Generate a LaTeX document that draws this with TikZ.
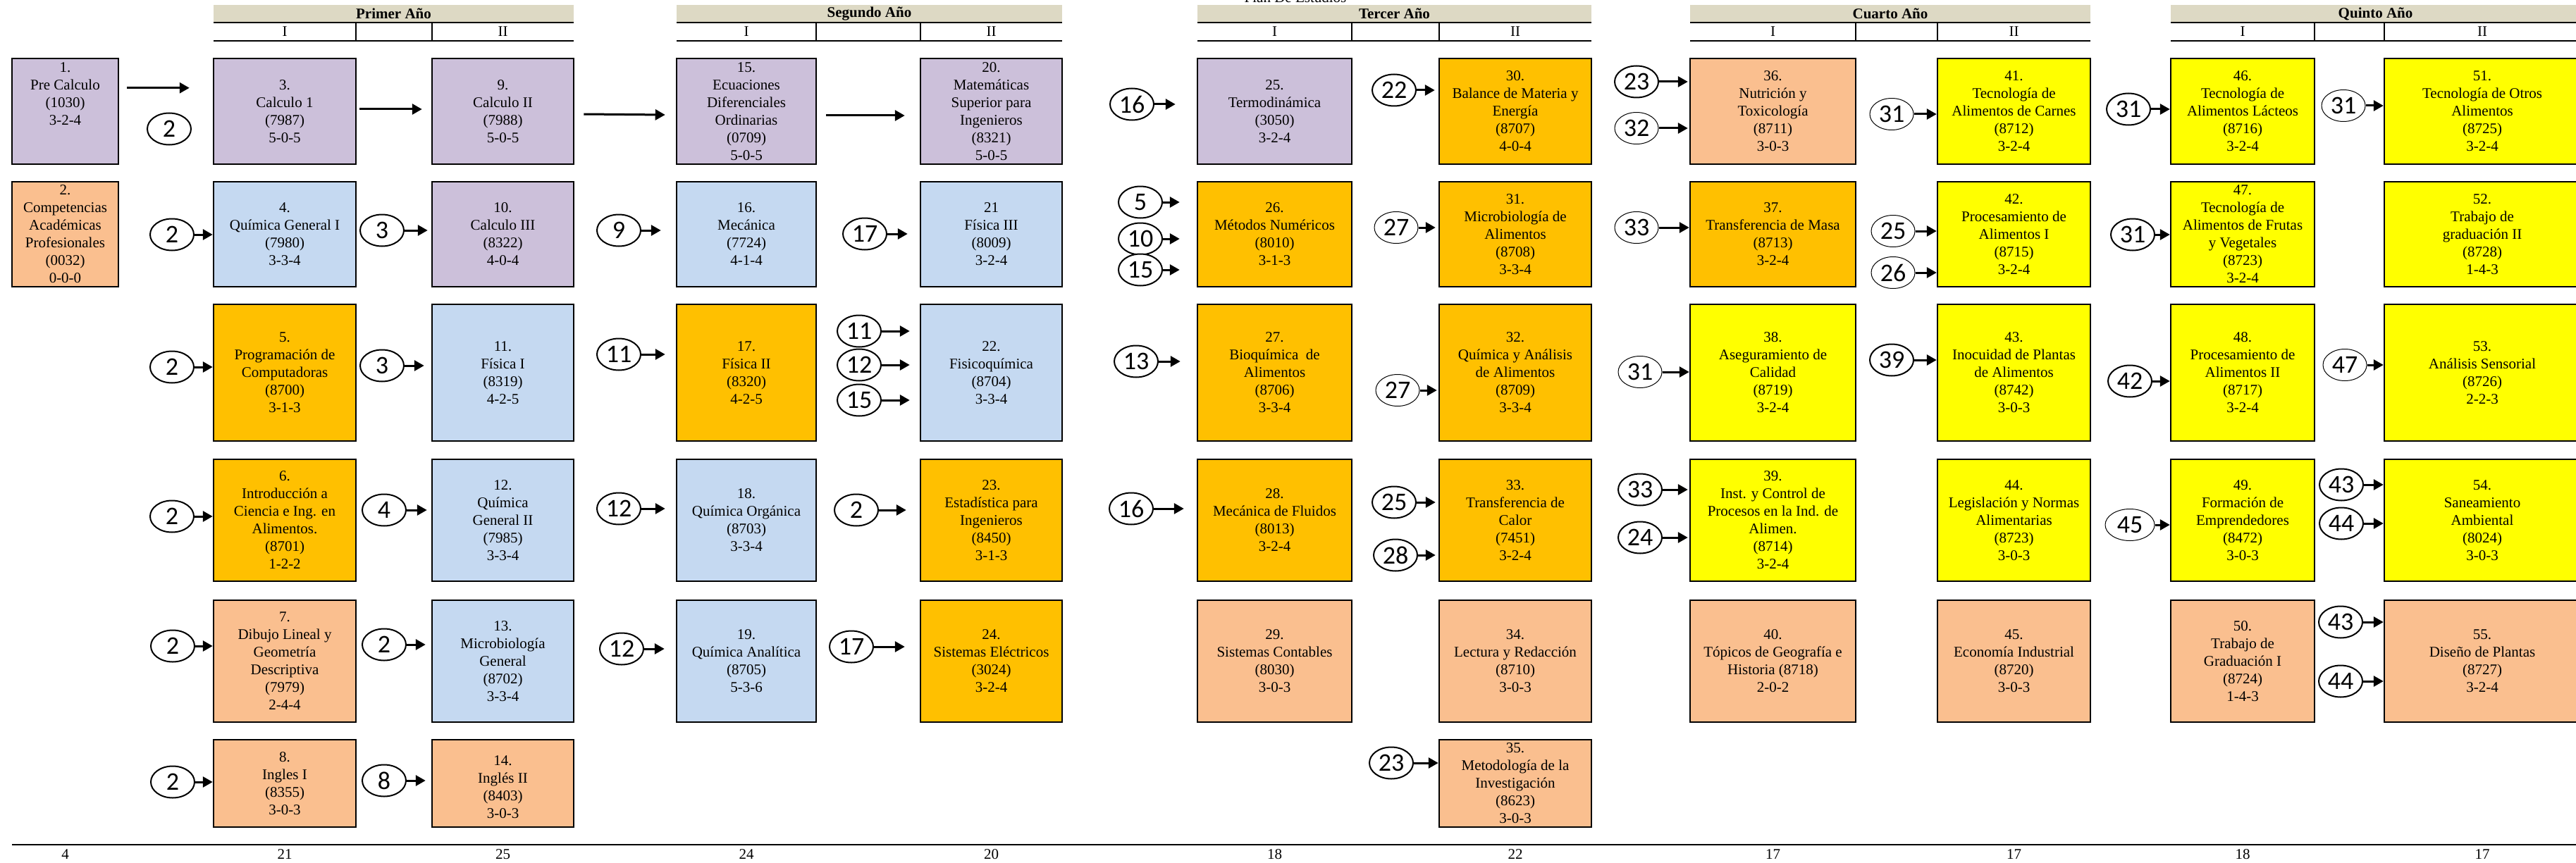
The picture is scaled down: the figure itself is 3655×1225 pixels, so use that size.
\documentclass[tikz,border=0pt]{standalone}
\usepackage{fontspec}
\setmainfont{Liberation Serif}
\newfontfamily\calibri{Carlito}
\usetikzlibrary{shapes.geometric,arrows.meta}
\definecolor{lila}{HTML}{CCC0DA}
\definecolor{celeste}{HTML}{C5D9F1}
\definecolor{oro}{HTML}{FFC000}
\definecolor{durazno}{HTML}{FABF8F}
\definecolor{amarillo}{HTML}{FFFF00}
\definecolor{arena}{HTML}{DDD9C4}
\begin{document}
\begin{tikzpicture}[x=1pt, y=-1pt, font=\fontsize{21}{25}\selectfont,
        curso/.style={draw, line width=2.5pt, fill=#1, inner sep=1pt, align=center},
        prereq/.style={ellipse, draw, fill=white, line width=2pt, minimum width=62pt, minimum height=45pt, inner sep=0pt, font=\calibri\fontsize{36}{36}\selectfont},
        prereqfino/.style={prereq, line width=1pt},
        flecha/.style={-{Triangle[length=14pt, width=15pt]}, line width=3pt},
        anio/.style={fill=arena, minimum height=25pt, inner sep=0pt, font=\bfseries\fontsize{21}{25}\selectfont},
        marco/.style={line width=2.5pt},
        divisor/.style={line width=1.5pt}]
        \useasboundingbox (0,0) rectangle (3655,1225);

        \node[anchor=base] (plan) at (1838,4) {Plan De Estudios};

        \node[anio, minimum width=511pt] (primer) at (558.5,19.5) {Primer Año};
        \node[anio, minimum width=547pt] (segundo) at (1233.5,19.5) {Segundo Año};
        \node[anio, minimum width=559pt] (tercer) at (1978.5,19.5) {Tercer Año};
        \node[anio, minimum width=568pt] (cuarto) at (2682,19.5) {Cuarto Año};
        \node[anio, minimum width=581pt] (quinto) at (3370.5,19.5) {Quinto Año};

        \draw[marco] (303,32) -- (814,32);
        \draw[marco] (303,58) -- (814,58);
        \draw[divisor] (505,32) -- (505,58);
        \draw[divisor] (613,32) -- (613,58);
        \draw[marco] (960,32) -- (1507,32);
        \draw[marco] (960,58) -- (1507,58);
        \draw[divisor] (1158,32) -- (1158,58);
        \draw[divisor] (1306,32) -- (1306,58);
        \draw[marco] (1699,32) -- (2258,32);
        \draw[marco] (1699,58) -- (2258,58);
        \draw[divisor] (1918,32) -- (1918,58);
        \draw[divisor] (2042,32) -- (2042,58);
        \draw[marco] (2398,32) -- (2966,32);
        \draw[marco] (2398,58) -- (2966,58);
        \draw[divisor] (2633,32) -- (2633,58);
        \draw[divisor] (2749,32) -- (2749,58);
        \draw[marco] (3080,32) -- (3661,32);
        \draw[marco] (3080,58) -- (3661,58);
        \draw[divisor] (3284,32) -- (3284,58);
        \draw[divisor] (3383,32) -- (3383,58);

        \node[curso=lila, minimum width=151pt, minimum height=150pt] (1) at (92.5,158) {1.\\Pre Calculo\\(1030)\\3-2-4\\\mbox{}\\\mbox{}};
        \node[curso=durazno, minimum width=151pt, minimum height=149pt] (2) at (92.5,332.5) {2.\\Competencias\\Académicas\\Profesionales\\(0032)\\0-0-0};

        \node[curso=lila, minimum width=202pt, minimum height=150pt] (3) at (404,158) {3.\\Calculo 1\\(7987)\\5-0-5};
        \node[curso=celeste, minimum width=202pt, minimum height=149pt] (4) at (404,332.5) {4.\\Química General I\\(7980)\\3-3-4};
        \node[curso=oro, minimum width=202pt, minimum height=194pt] (5) at (404,529) {5.\\Programación de\\Computadoras\\(8700)\\3-1-3};
        \node[curso=oro, minimum width=202pt, minimum height=173pt] (6) at (404,738.5) {6.\\Introducción a\\Ciencia e Ing. en\\Alimentos.\\(8701)\\1-2-2};
        \node[curso=durazno, minimum width=202pt, minimum height=173pt] (7) at (404,938.5) {7.\\Dibujo Lineal y\\Geometría\\Descriptiva\\(7979)\\2-4-4};
        \node[curso=durazno, minimum width=202pt, minimum height=124pt] (8) at (404,1112) {8.\\Ingles I\\(8355)\\3-0-3};

        \node[curso=lila, minimum width=201pt, minimum height=150pt] (9) at (713.5,158) {9.\\Calculo II\\(7988)\\5-0-5};
        \node[curso=lila, minimum width=201pt, minimum height=149pt] (10) at (713.5,332.5) {10.\\Calculo III\\(8322)\\4-0-4};
        \node[curso=celeste, minimum width=201pt, minimum height=194pt] (11) at (713.5,529) {11.\\Física I\\(8319)\\4-2-5};
        \node[curso=celeste, minimum width=201pt, minimum height=173pt] (12) at (713.5,738.5) {12.\\Química\\General II\\(7985)\\3-3-4};
        \node[curso=celeste, minimum width=201pt, minimum height=173pt] (13) at (713.5,938.5) {13.\\Microbiología\\General\\(8702)\\3-3-4};
        \node[curso=durazno, minimum width=201pt, minimum height=124pt] (14) at (713.5,1112) {\mbox{}\\14.\\Inglés II\\(8403)\\3-0-3};

        \node[curso=lila, minimum width=198pt, minimum height=150pt] (15) at (1059,158) {15.\\Ecuaciones\\Diferenciales\\Ordinarias\\(0709)\\5-0-5};
        \node[curso=celeste, minimum width=198pt, minimum height=149pt] (16) at (1059,332.5) {16.\\Mecánica\\(7724)\\4-1-4};
        \node[curso=oro, minimum width=198pt, minimum height=194pt] (17) at (1059,529) {17.\\Física II\\(8320)\\4-2-5};
        \node[curso=celeste, minimum width=198pt, minimum height=173pt] (18) at (1059,738.5) {18.\\Química Orgánica\\(8703)\\3-3-4};
        \node[curso=celeste, minimum width=198pt, minimum height=173pt] (19) at (1059,938.5) {19.\\Química Analítica\\(8705)\\5-3-6};

        \node[curso=lila, minimum width=201pt, minimum height=150pt] (20) at (1406.5,158) {20.\\Matemáticas\\Superior para\\Ingenieros\\(8321)\\5-0-5};
        \node[curso=celeste, minimum width=201pt, minimum height=149pt] (21) at (1406.5,332.5) {21\\Física III\\(8009)\\3-2-4};
        \node[curso=celeste, minimum width=201pt, minimum height=194pt] (22) at (1406.5,529) {22.\\Fisicoquímica\\(8704)\\3-3-4};
        \node[curso=oro, minimum width=201pt, minimum height=173pt] (23) at (1406.5,738.5) {23.\\Estadística para\\Ingenieros\\(8450)\\3-1-3};
        \node[curso=oro, minimum width=201pt, minimum height=173pt] (24) at (1406.5,938.5) {24.\\Sistemas Eléctricos\\(3024)\\3-2-4};

        \node[curso=lila, minimum width=219pt, minimum height=150pt] (25) at (1808.5,158) {25.\\Termodinámica\\(3050)\\3-2-4};
        \node[curso=oro, minimum width=219pt, minimum height=149pt] (26) at (1808.5,332.5) {26.\\Métodos Numéricos\\(8010)\\3-1-3};
        \node[curso=oro, minimum width=219pt, minimum height=194pt] (27) at (1808.5,529) {27.\\Bioquímica~ de\\Alimentos\\(8706)\\3-3-4};
        \node[curso=oro, minimum width=219pt, minimum height=173pt] (28) at (1808.5,738.5) {28.\\Mecánica de Fluidos\\(8013)\\3-2-4};
        \node[curso=durazno, minimum width=219pt, minimum height=173pt] (29) at (1808.5,938.5) {29.\\Sistemas Contables\\(8030)\\3-0-3};

        \node[curso=oro, minimum width=216pt, minimum height=150pt] (30) at (2150,158) {30.\\Balance de Materia y\\Energía\\(8707)\\4-0-4};
        \node[curso=oro, minimum width=216pt, minimum height=149pt] (31) at (2150,332.5) {31.\\Microbiología de\\Alimentos\\(8708)\\3-3-4};
        \node[curso=oro, minimum width=216pt, minimum height=194pt] (32) at (2150,529) {32.\\Química y Análisis\\de Alimentos\\(8709)\\3-3-4};
        \node[curso=oro, minimum width=216pt, minimum height=173pt] (33) at (2150,738.5) {33.\\Transferencia de\\Calor\\(7451)\\3-2-4};
        \node[curso=durazno, minimum width=216pt, minimum height=173pt] (34) at (2150,938.5) {34.\\Lectura y Redacción\\(8710)\\3-0-3};
        \node[curso=durazno, minimum width=216pt, minimum height=124pt] (35) at (2150,1112) {35.\\Metodología de la\\Investigación\\(8623)\\3-0-3};

        \node[curso=durazno, minimum width=235pt, minimum height=150pt] (36) at (2515.5,158) {36.\\Nutrición y\\Toxicología\\(8711)\\3-0-3};
        \node[curso=oro, minimum width=235pt, minimum height=149pt] (37) at (2515.5,332.5) {37.\\Transferencia de Masa\\(8713)\\3-2-4};
        \node[curso=amarillo, minimum width=235pt, minimum height=194pt] (38) at (2515.5,529) {38.\\Aseguramiento de\\Calidad\\(8719)\\3-2-4};
        \node[curso=amarillo, minimum width=235pt, minimum height=173pt] (39) at (2515.5,738.5) {39.\\Inst. y Control de\\Procesos en la Ind. de\\Alimen.\\(8714)\\3-2-4};
        \node[curso=durazno, minimum width=235pt, minimum height=173pt] (40) at (2515.5,938.5) {40.\\Tópicos de Geografía e\\Historia (8718)\\2-0-2};

        \node[curso=amarillo, minimum width=217pt, minimum height=150pt] (41) at (2857.5,158) {41.\\Tecnología de\\Alimentos de Carnes\\(8712)\\3-2-4};
        \node[curso=amarillo, minimum width=217pt, minimum height=149pt] (42) at (2857.5,332.5) {42.\\Procesamiento de\\Alimentos I\\(8715)\\3-2-4};
        \node[curso=amarillo, minimum width=217pt, minimum height=194pt] (43) at (2857.5,529) {43.\\Inocuidad de Plantas\\de Alimentos\\(8742)\\3-0-3};
        \node[curso=amarillo, minimum width=217pt, minimum height=173pt] (44) at (2857.5,738.5) {44.\\Legislación y Normas\\Alimentarias\\(8723)\\3-0-3};
        \node[curso=durazno, minimum width=217pt, minimum height=173pt] (45) at (2857.5,938.5) {45.\\Economía Industrial\\(8720)\\3-0-3};

        \node[curso=amarillo, minimum width=204pt, minimum height=150pt] (46) at (3182,158) {46.\\Tecnología de\\Alimentos Lácteos\\(8716)\\3-2-4};
        \node[curso=amarillo, minimum width=204pt, minimum height=149pt] (47) at (3182,332.5) {47.\\Tecnología de\\Alimentos de Frutas\\y Vegetales\\(8723)\\3-2-4};
        \node[curso=amarillo, minimum width=204pt, minimum height=194pt] (48) at (3182,529) {48.\\Procesamiento de\\Alimentos II\\(8717)\\3-2-4};
        \node[curso=amarillo, minimum width=204pt, minimum height=173pt] (49) at (3182,738.5) {49.\\Formación de\\Emprendedores\\(8472)\\3-0-3};
        \node[curso=durazno, minimum width=204pt, minimum height=173pt] (50) at (3182,938.5) {50.\\Trabajo de\\Graduación I\\(8724)\\1-4-3};

        \node[curso=amarillo, minimum width=278pt, minimum height=150pt] (51) at (3522,158) {51.\\Tecnología de Otros\\Alimentos\\(8725)\\3-2-4};
        \node[curso=amarillo, minimum width=278pt, minimum height=149pt] (52) at (3522,332.5) {52.\\Trabajo de\\graduación II\\(8728)\\1-4-3};
        \node[curso=amarillo, minimum width=278pt, minimum height=194pt] (53) at (3522,529) {53.\\Análisis Sensorial\\(8726)\\2-2-3};
        \node[curso=amarillo, minimum width=278pt, minimum height=173pt] (54) at (3522,738.5) {54.\\Saneamiento\\Ambiental\\(8024)\\3-0-3};
        \node[curso=durazno, minimum width=278pt, minimum height=173pt] (55) at (3522,938.5) {55.\\Diseño de Plantas\\(8727)\\3-2-4};

        \node at (3 |- 0,45) {I};
        \node at (9 |- 0,45) {II};
        \node at (15 |- 0,45) {I};
        \node at (20 |- 0,45) {II};
        \node at (25 |- 0,45) {I};
        \node at (30 |- 0,45) {II};
        \node at (36 |- 0,45) {I};
        \node at (41 |- 0,45) {II};
        \node at (46 |- 0,45) {I};
        \node at (51 |- 0,45) {II};

        \node[prereq] (p3) at (240,183) {2};
        \node[prereq] (p25) at (1606,148) {16};
        \node[prereq] (p30) at (1978,128) {22};
        \node[prereq] (p36a) at (2322,116) {23};
        \node[prereqfino] (p36b) at (2322,182) {32};
        \node[prereqfino] (p41) at (2684,162) {31};
        \node[prereq] (p46) at (3020,155) {31};
        \node[prereqfino] (p51) at (3325,150) {31};

        \node[prereq] (p4) at (244,333) {2};
        \node[prereq] (p10) at (542,327) {3};
        \node[prereq] (p16) at (878,327) {9};
        \node[prereq] (p21) at (1227,332) {17};
        \node[prereq] (p26a) at (1618,287) {5};
        \node[prereq] (p26b) at (1618,339) {10};
        \node[prereq] (p26c) at (1618,383) {15};
        \node[prereqfino] (p31) at (1981,323) {27};
        \node[prereqfino] (p37) at (2322,323) {33};
        \node[prereqfino] (p42a) at (2686,328) {25};
        \node[prereqfino] (p42b) at (2686,387) {26};
        \node[prereq] (p47) at (3026,333) {31};

        \node[prereq] (p5) at (244,521) {2};
        \node[prereq] (p11) at (542,519) {3};
        \node[prereq] (p17) at (878,503) {11};
        \node[prereq] (p22a) at (1219,470) {11};
        \node[prereq] (p22b) at (1219,518) {12};
        \node[prereq] (p22c) at (1219,568) {15};
        \node[prereq] (p27) at (1612,513) {13};
        \node[prereqfino] (p32) at (1983,554) {27};
        \node[prereqfino] (p38) at (2327,528) {31};
        \node[prereq] (p43) at (2684,511) {39};
        \node[prereq] (p48) at (3022,541) {42};
        \node[prereqfino] (p53) at (3327,518) {47};

        \node[prereq] (p6) at (244,733) {2};
        \node[prereq] (p12) at (545,724) {4};
        \node[prereq] (p18) at (878,722) {12};
        \node[prereq] (p23) at (1215,724) {2};
        \node[prereq] (p28) at (1605,722) {16};
        \node[prereq] (p33a) at (1978,713) {25};
        \node[prereq] (p33b) at (1980,788) {28};
        \node[prereq] (p39a) at (2327,695) {33};
        \node[prereq] (p39b) at (2327,763) {24};
        \node[prereqfino, minimum width=70pt] (p49) at (3022,745) {45};
        \node[prereq] (p54a) at (3322,688) {43};
        \node[prereq] (p54b) at (3322,743) {44};

        \node[prereq] (p7) at (245,917) {2};
        \node[prereq] (p13) at (545,915) {2};
        \node[prereq] (p19) at (882,921) {12};
        \node[prereq] (p24) at (1208,918) {17};
        \node[prereq] (p55a) at (3321,883) {43};
        \node[prereq] (p55b) at (3321,967) {44};

        \node[prereq] (p8) at (245,1110) {2};
        \node[prereq] (p14) at (545,1108) {8};
        \node[prereq] (p35) at (1974,1083) {23};

        \draw[flecha] ([shift={(11,43)}]1.north east) -- ([shift={(-33,43)}]3.north west);
        \draw[flecha] ([shift={(4,-3)}]3.east) -- ([shift={(-13,-3)}]9.west);
        \draw[flecha] ([shift={(13,4)}]9.east) -- ([shift={(-15,5)}]15.west);
        \draw[flecha] ([shift={(13,6)}]15.east) -- ([shift={(-21,6)}]20.west);

        \draw[flecha] (p25) -- ([xshift=-30pt]p25 -| 25.west);
        \draw[flecha] (p30) -- ([xshift=-5pt]p30 -| 30.west);
        \draw[flecha] (p36a) -- ([xshift=-2pt]p36a -| 36.west);
        \draw[flecha] (p36b) -- ([xshift=-2pt]p36b -| 36.west);
        \draw[flecha] (p41) -- (p41 -| 41.west);
        \draw[flecha] (p46) -- (p46 -| 46.west);
        \draw[flecha] (p51) -- (p51 -| 51.west);

        \draw[flecha] (p4) -- (p4 -| 4.west);
        \draw[flecha] (p10) -- ([xshift=-5pt]p10 -| 10.west);
        \draw[flecha] (p16) -- ([xshift=-21pt]p16 -| 16.west);
        \draw[flecha] (p21) -- ([xshift=-17pt]p21 -| 21.west);
        \draw[flecha] (p26a) -- ([xshift=-24pt]p26a -| 26.west);
        \draw[flecha] (p26b) -- ([xshift=-24pt]p26b -| 26.west);
        \draw[flecha] (p26c) -- ([xshift=-24pt]p26c -| 26.west);
        \draw[flecha] (p31) -- ([xshift=-4pt]p31 -| 31.west);
        \draw[flecha] (p37) -- (p37 -| 37.west);
        \draw[flecha] (p42a) -- (p42a -| 42.west);
        \draw[flecha] (p42b) -- (p42b -| 42.west);
        \draw[flecha] (p47) -- (p47 -| 47.west);

        \draw[flecha] (p5) -- (p5 -| 5.west);
        \draw[flecha] (p11) -- ([xshift=-10pt]p11 -| 11.west);
        \draw[flecha] (p17) -- ([xshift=-15pt]p17 -| 17.west);
        \draw[flecha] (p22a) -- ([xshift=-14pt]p22a -| 22.west);
        \draw[flecha] (p22b) -- ([xshift=-14pt]p22b -| 22.west);
        \draw[flecha] (p22c) -- ([xshift=-14pt]p22c -| 22.west);
        \draw[flecha] (p27) -- ([xshift=-23pt]p27 -| 27.west);
        \draw[flecha] (p32) -- ([xshift=-2pt]p32 -| 32.west);
        \draw[flecha] (p38) -- (p38 -| 38.west);
        \draw[flecha] (p43) -- (p43 -| 43.west);
        \draw[flecha] (p48) -- (p48 -| 48.west);
        \draw[flecha] (p53) -- (p53 -| 53.west);

        \draw[flecha] (p6) -- (p6 -| 6.west);
        \draw[flecha] (p12) -- ([xshift=-6pt]p12 -| 12.west);
        \draw[flecha] (p18) -- ([xshift=-15pt]p18 -| 18.west);
        \draw[flecha] (p23) -- ([xshift=-19pt]p23 -| 23.west);
        \draw[flecha] (p28) -- ([xshift=-18pt]p28 -| 28.west);
        \draw[flecha] (p33a) -- ([xshift=-4pt]p33a -| 33.west);
        \draw[flecha] (p33b) -- ([xshift=-4pt]p33b -| 33.west);
        \draw[flecha] (p39a) -- ([xshift=-2pt]p39a -| 39.west);
        \draw[flecha] (p39b) -- ([xshift=-2pt]p39b -| 39.west);
        \draw[flecha] (p49) -- (p49 -| 49.west);
        \draw[flecha] (p54a) -- (p54a -| 54.west);
        \draw[flecha] (p54b) -- (p54b -| 54.west);

        \draw[flecha] (p7) -- (p7 -| 7.west);
        \draw[flecha] (p13) -- ([xshift=-8pt]p13 -| 13.west);
        \draw[flecha] (p19) -- ([xshift=-16pt]p19 -| 19.west);
        \draw[flecha] (p24) -- ([xshift=-21pt]p24 -| 24.west);
        \draw[flecha] (p55a) -- (p55a -| 55.west);
        \draw[flecha] (p55b) -- (p55b -| 55.west);

        \draw[flecha] (p8) -- (p8 -| 8.west);
        \draw[flecha] (p14) -- ([xshift=-8pt]p14 -| 14.west);
        \draw[flecha] (p35) -- (p35 -| 35.west);

        \draw[marco] (17,1199) -- (3661,1199);
        \node at (1 |- 0,1213) {4};
        \node at (3 |- 0,1213) {21};
        \node at (9 |- 0,1213) {25};
        \node at (15 |- 0,1213) {24};
        \node at (20 |- 0,1213) {20};
        \node at (25 |- 0,1213) {18};
        \node at (30 |- 0,1213) {22};
        \node at (36 |- 0,1213) {17};
        \node at (41 |- 0,1213) {17};
        \node at (46 |- 0,1213) {18};
        \node at (51 |- 0,1213) {17};
    \end{tikzpicture}
\end{document}
